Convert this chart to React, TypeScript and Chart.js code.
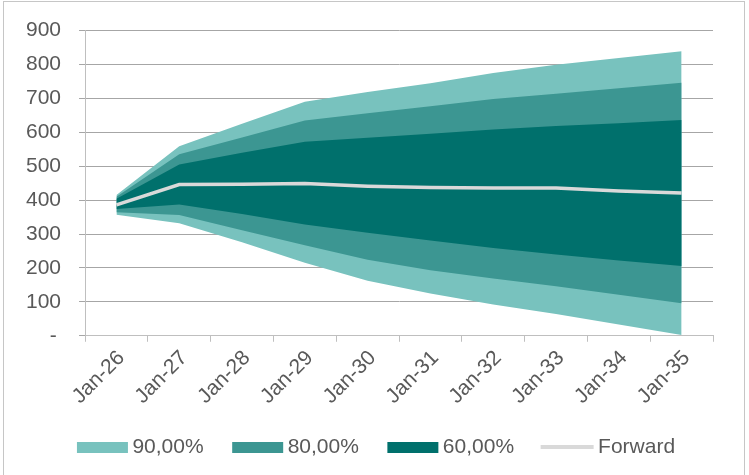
import React, { useEffect, useRef } from "react";
import { Chart, registerables } from "chart.js";

Chart.register(...registerables);

const categories = ["Jan-26", "Jan-27", "Jan-28", "Jan-29", "Jan-30", "Jan-31", "Jan-32", "Jan-33", "Jan-34", "Jan-35"];
const upper90 = [415, 559, 625, 690, 719, 745, 775, 799, 819, 839];
const upper80 = [410, 535, 585, 635, 656, 677, 698, 714, 730, 746];
const upper60 = [404, 505, 540, 572, 584, 596, 608, 619, 627, 636];
const forward = [386, 446, 447, 449, 441, 437, 436, 436, 427, 421];
const lower60 = [374, 387, 359, 328, 304, 281, 259, 240, 222, 206];
const lower80 = [364, 356, 311, 267, 224, 193, 169, 146, 121, 96];
const lower90 = [357, 332, 276, 215, 162, 125, 92, 64, 33, 2];
const yTicks = [0, 100, 200, 300, 400, 500, 600, 700, 800, 900];
const legendLabels = ["90,00%", "80,00%", "60,00%", "Forward"];

const C90 = "#78C2BE";
const C80 = "#3C9692";
const C60 = "#00706C";
const CFWD = "#D9D9D9";
const TEXT = "#595959";
const FONT = "Liberation Sans, Arial, sans-serif";
const FS = 21;

// legend swatch image: transparent canvas with the swatch drawn at an offset
function swatch(color: string, w: number, h: number, offset: number) {
  const c = document.createElement("canvas");
  c.width = 80;
  c.height = 12;
  const ctx = c.getContext("2d")!;
  ctx.fillStyle = color;
  ctx.fillRect(offset, Math.round((12 - h) / 2), w, h);
  return c;
}

const legendShift = {
  id: "legendShift",
  afterLayout(chart: any) {
    if (chart.legend) {
      chart.legend.left += 13;
      chart.legend.right += 13;
    }
  },
};

export default function App() {
  const ref = useRef<HTMLCanvasElement | null>(null);

  useEffect(() => {
    if (!ref.current) return;
    const band = (data: number[], color: string, fill: any, order: number, label: string) => ({
      label,
      data,
      borderWidth: 0,
      borderColor: "rgba(0,0,0,0)",
      backgroundColor: color,
      pointRadius: 0,
      fill,
      order,
      tension: 0,
    });
    const PW = 50;
    const off = Math.round(40 - PW / 2 + (PW + FS / 2 - 5 - 51));
    const swatches = [
      swatch(C90, 51, 11, off),
      swatch(C80, 51, 11, off),
      swatch(C60, 51, 11, off),
      swatch(CFWD, 53, 4, off - 2),
    ];
    const chart = new Chart(ref.current, {
      type: "line",
      plugins: [legendShift],
      data: {
        labels: categories,
        datasets: [
          band(upper90, C90, 1, 3, legendLabels[0]),
          band(lower90, C90, false, 3, "lo90"),
          band(upper80, C80, 3, 2, legendLabels[1]),
          band(lower80, C80, false, 2, "lo80"),
          band(upper60, C60, 5, 1, legendLabels[2]),
          band(lower60, C60, false, 1, "lo60"),
          {
            label: legendLabels[3],
            data: forward,
            borderColor: CFWD,
            borderWidth: 3.5,
            pointRadius: 0,
            fill: false,
            order: 0,
            tension: 0,
          } as any,
        ],
      },
      options: {
        animation: false,
        responsive: true,
        maintainAspectRatio: false,
        layout: { padding: { left: 8, right: 36, top: 19.5, bottom: 7.5 } },
        plugins: {
          tooltip: { enabled: false },
          legend: {
            position: "bottom",
            labels: {
              usePointStyle: true,
              pointStyleWidth: PW,
              padding: 23.5,
              color: TEXT,
              font: { family: FONT, size: FS },
              generateLabels: () =>
                legendLabels.map((t, i) => ({
                  text: t,
                  pointStyle: swatches[i] as any,
                  fillStyle: "rgba(0,0,0,0)",
                  strokeStyle: "rgba(0,0,0,0)",
                  lineWidth: 0,
                  hidden: false,
                  fontColor: TEXT,
                  datasetIndex: i * 2,
                })),
            },
          },
        },
        scales: {
          x: {
            offset: true,
            grid: {
              display: true,
              offset: true,
              drawOnChartArea: false,
              drawTicks: true,
              tickLength: 6,
              color: "#BFBFBF",
            },
            border: { color: "#BFBFBF", width: 1 },
            ticks: {
              color: TEXT,
              maxRotation: 45,
              minRotation: 45,
              padding: 4,
              labelOffset: 5,
              font: { family: FONT, size: FS },
            },
          },
          y: {
            min: 0,
            max: 900,
            afterBuildTicks: (axis: any) => {
              axis.ticks = yTicks.map((v) => ({ value: v }));
            },
            grid: {
              color: "#A6A6A6",
              tickLength: 6,
              drawTicks: true,
            },
            border: { color: "#BFBFBF", width: 1 },
            ticks: {
              color: TEXT,
              padding: 18,
              font: { family: FONT, size: FS },
              callback: (v: any) => (Number(v) === 0 ? "-\u2009" : String(v)),
            },
          },
        },
      },
    });
    return () => chart.destroy();
  }, []);

  return (
    <div style={{ position: "absolute", left: 0, top: 0, width: 749, height: 475, background: "#fff", overflow: "hidden" }}>
      <div
        style={{
          position: "absolute",
          left: 3,
          top: 1,
          width: 742,
          height: 490,
          border: "1px solid #C6C6C6",
          boxSizing: "border-box",
          pointerEvents: "none",
        }}
      />
      <div style={{ position: "absolute", left: 0, top: 0, width: 749, height: 475 }}>
        <canvas ref={ref} />
      </div>
    </div>
  );
}
